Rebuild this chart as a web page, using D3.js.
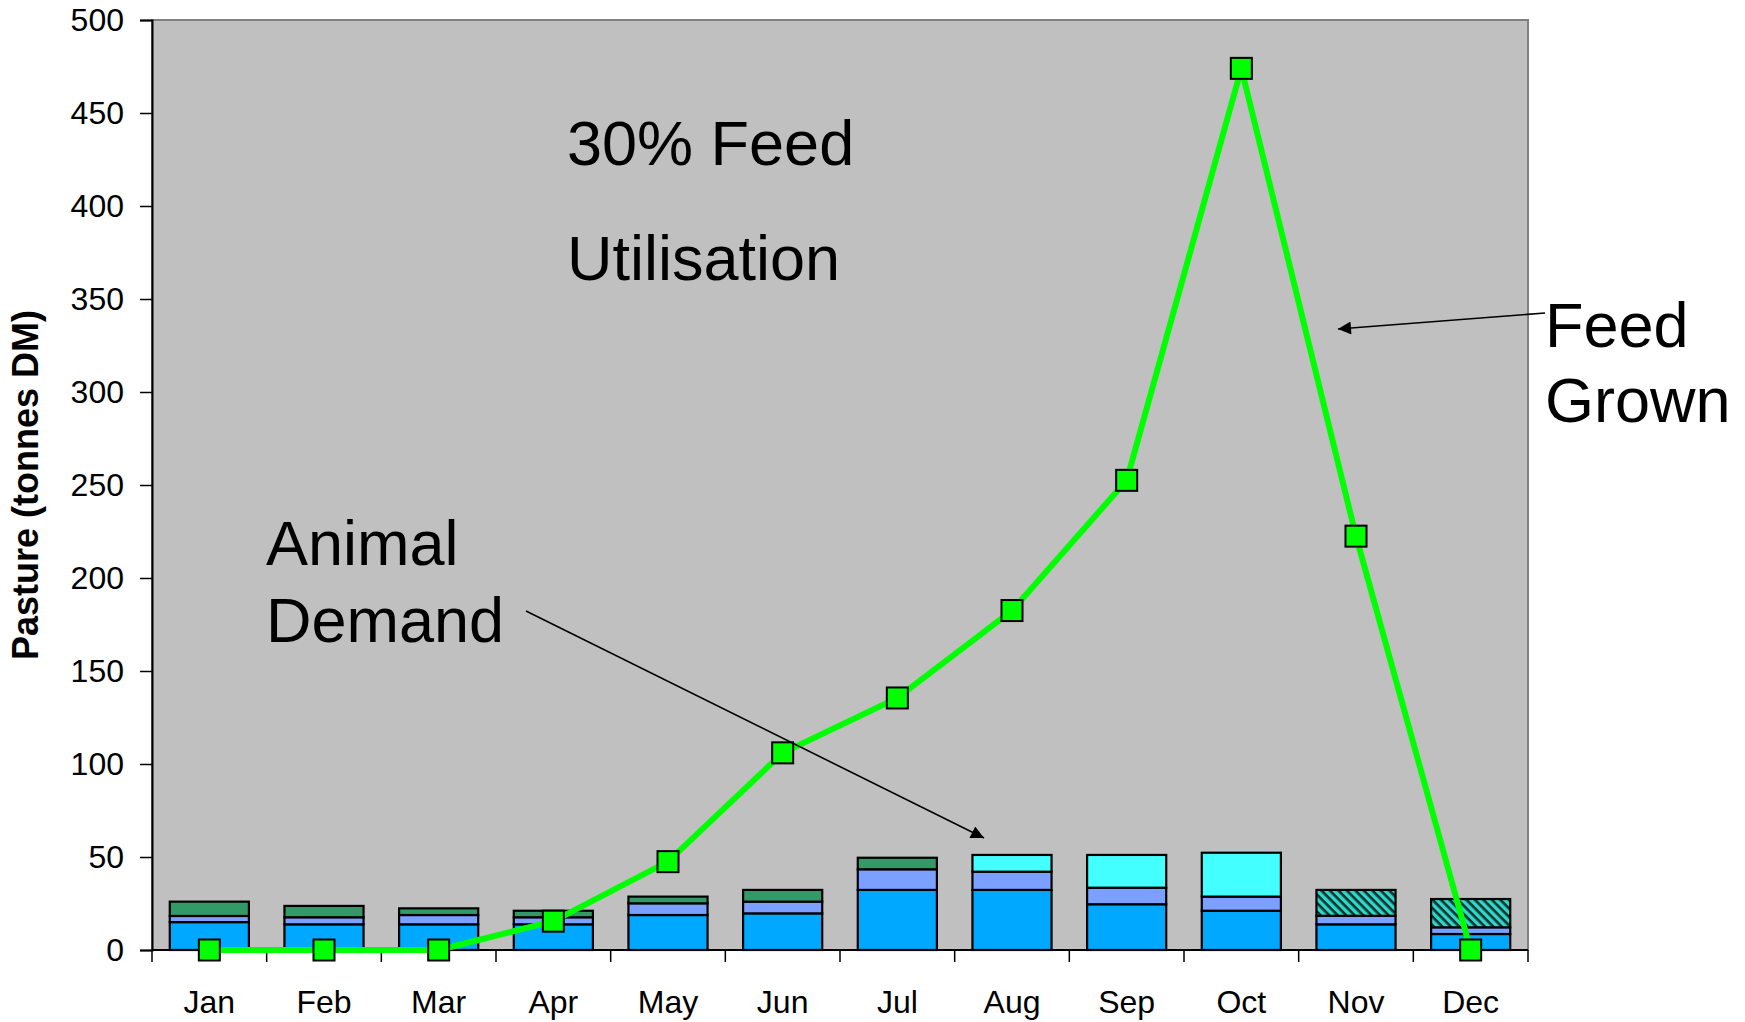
<!DOCTYPE html>
<html>
<head>
<meta charset="utf-8">
<script src="https://cdn.jsdelivr.net/npm/d3@7"></script>
<style>
  body { margin: 0; background: #fff; }
  svg { display: block; font-family: "Liberation Sans", Arial, sans-serif; }
</style>
</head>
<body>
<svg id="chart" width="1745" height="1022"></svg>
<script>
// data
let months = ["Jan","Feb","Mar","Apr","May","Jun","Jul","Aug","Sep","Oct","Nov","Dec"];
let demandBase  = [15, 13.8, 13.8, 13.8, 18.8, 19.7, 32.3, 32.3, 24.6, 21.1, 13.8, 8.6];
let demandMid   = [3.3, 3.8, 5, 3.8, 6.3, 6.3, 11.1, 9.8, 8.9, 7.6, 4.6, 3.6];
let demandGreen = [7.7, 6.1, 3.6, 3.5, 3.6, 6.3, 6.2, 0, 0, 0, 0, 0];
let demandCyan  = [0, 0, 0, 0, 0, 0, 0, 9, 17.6, 23.6, 0, 0];
let demandHatch = [0, 0, 0, 0, 0, 0, 0, 0, 0, 0, 13.9, 15.2];
let feedGrown   = [0, 0, 0, 15.5, 47.5, 106, 135.5, 182.5, 252.5, 474, 222.5, 0];
let yTicks = [0, 50, 100, 150, 200, 250, 300, 350, 400, 450, 500];

let width = 1745,
    height = 1022,
    margins = {top: 20, bottom: 72, left: 152, right: 217};

let keys = ["base", "mid", "green", "cyan", "hatch"];
let fills = {base: "#00a8ff", mid: "#7ba0ff", green: "#339966", cyan: "#44ffff", hatch: "url(#hatch)"};

let table = months.map((m, i) => ({
  month: m,
  base: demandBase[i],
  mid: demandMid[i],
  green: demandGreen[i],
  cyan: demandCyan[i],
  hatch: demandHatch[i]
}));

let svg = d3.select("#chart");

let x = d3.scaleBand()
  .domain(months)
  .range([margins.left, width - margins.right])
  .paddingInner(0.31)
  .paddingOuter(0.155);

let y = d3.scaleLinear()
  .domain([0, 500])
  .range([height - margins.bottom, margins.top]);

// defs: hatch pattern + arrow head
let defs = svg.append("defs");
let pat = defs.append("pattern")
  .attr("id", "hatch")
  .attr("patternUnits", "userSpaceOnUse")
  .attr("width", 6).attr("height", 6)
  .attr("patternTransform", "rotate(45)");
pat.append("rect").attr("width", 6).attr("height", 6).attr("fill", "#33d6c8");
pat.append("rect").attr("width", 6).attr("height", 2.6).attr("fill", "#04332f");

defs.append("marker")
  .attr("id", "arrow")
  .attr("viewBox", "0 0 10 10")
  .attr("refX", 10).attr("refY", 5)
  .attr("markerWidth", 17).attr("markerHeight", 13)
  .attr("markerUnits", "userSpaceOnUse")
  .attr("orient", "auto")
  .append("path")
  .attr("d", "M0,0 L10,5 L0,10 Z")
  .attr("fill", "#000");

// plot background
svg.append("rect")
  .attr("x", margins.left)
  .attr("y", margins.top)
  .attr("width", width - margins.left - margins.right)
  .attr("height", height - margins.top - margins.bottom)
  .attr("fill", "#c0c0c0")
  .attr("stroke", "#808080")
  .attr("stroke-width", 2);

// stacked bars
let stacked = d3.stack().keys(keys)(table);

svg.append("g")
  .selectAll("g")
  .data(stacked).enter()
  .append("g")
  .attr("fill", d => fills[d.key])
  .selectAll("rect")
  .data(d => d.filter(s => s[1] - s[0] > 0)).enter()
  .append("rect")
  .attr("x", d => x(d.data.month))
  .attr("width", x.bandwidth())
  .attr("y", d => y(d[1]))
  .attr("height", d => y(d[0]) - y(d[1]))
  .attr("stroke", "#000")
  .attr("stroke-width", 2.2);

// axes
let y_axis = d3.axisLeft(y)
  .tickValues(yTicks)
  .tickSize(12)
  .tickPadding(16);

let gy = svg.append("g")
  .attr("transform", `translate(${margins.left},0)`)
  .call(y_axis);
gy.selectAll("text").attr("font-size", 32).attr("fill", "#000");
gy.selectAll("line").attr("stroke", "#000").attr("stroke-width", 1.5);
gy.select(".domain").attr("stroke", "#000").attr("stroke-width", 2);

// x axis baseline + ticks at band edges
let base = y(0);
svg.append("line")
  .attr("x1", margins.left).attr("x2", width - margins.right)
  .attr("y1", base).attr("y2", base)
  .attr("stroke", "#000").attr("stroke-width", 2);

let edges = months.map(m => x(m) - x.step() * x.paddingInner() / 2);
edges.push(width - margins.right);
svg.append("g")
  .selectAll("line")
  .data(edges).enter()
  .append("line")
  .attr("x1", d => d).attr("x2", d => d)
  .attr("y1", base).attr("y2", base + 12)
  .attr("stroke", "#000").attr("stroke-width", 1.5);

svg.append("g")
  .selectAll("text")
  .data(months).enter()
  .append("text")
  .attr("x", d => x(d) + x.bandwidth() / 2)
  .attr("y", base + 63)
  .attr("text-anchor", "middle")
  .attr("font-size", 32)
  .text(d => d);

// y title
svg.append("text")
  .attr("transform", `translate(38,${(margins.top + base) / 2}) rotate(-90)`)
  .attr("text-anchor", "middle")
  .attr("font-size", 36)
  .attr("font-weight", "bold")
  .text("Pasture (tonnes DM)");

// feed grown line
let line = d3.line()
  .x((d, i) => x(months[i]) + x.bandwidth() / 2)
  .y(d => y(d));

svg.append("path")
  .datum(feedGrown)
  .attr("d", line)
  .attr("fill", "none")
  .attr("stroke", "#00ff00")
  .attr("stroke-width", 6)
  .attr("stroke-linejoin", "round");

svg.append("g")
  .selectAll("rect")
  .data(feedGrown).enter()
  .append("rect")
  .attr("x", (d, i) => x(months[i]) + x.bandwidth() / 2 - 10.5)
  .attr("y", d => y(d) - 10.5)
  .attr("width", 21).attr("height", 21)
  .attr("fill", "#00ff00")
  .attr("stroke", "#000")
  .attr("stroke-width", 2);

// annotations
function label(lines, x0, y0, gap) {
  let t = svg.append("text").attr("font-size", 63).attr("fill", "#000");
  lines.forEach((l, i) => t.append("tspan").attr("x", x0).attr("y", y0 + i * gap).text(l));
}
label(["30% Feed", "Utilisation"], 567, 165, 115);
label(["Animal", "Demand"], 266, 565, 77);
label(["Feed", "Grown"], 1545, 347, 75);

svg.append("line")
  .attr("x1", 526).attr("y1", 611)
  .attr("x2", 984).attr("y2", 838)
  .attr("stroke", "#000").attr("stroke-width", 1.6)
  .attr("marker-end", "url(#arrow)");

svg.append("line")
  .attr("x1", 1545).attr("y1", 313)
  .attr("x2", 1338).attr("y2", 329)
  .attr("stroke", "#000").attr("stroke-width", 1.6)
  .attr("marker-end", "url(#arrow)");
</script>
</body>
</html>
